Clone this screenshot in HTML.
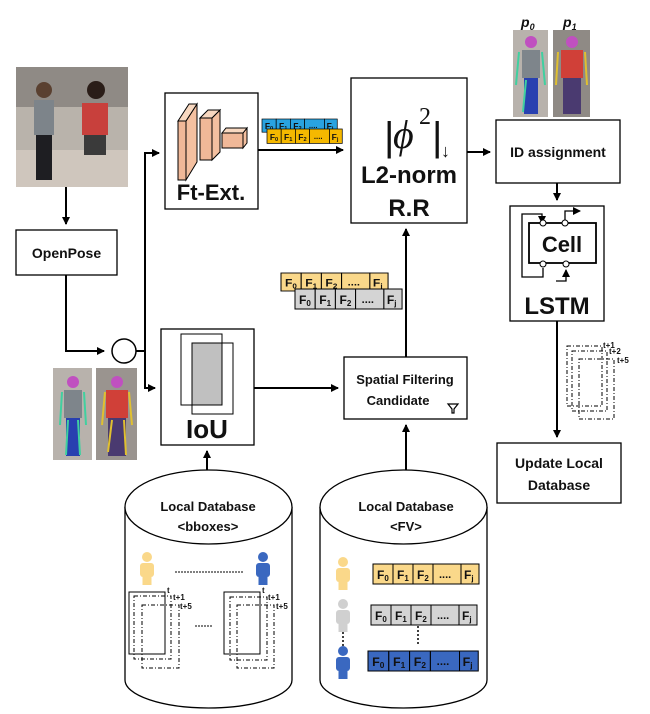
<!DOCTYPE html>
<html><head><meta charset="utf-8"><style>
html,body{margin:0;padding:0;background:#fff}
svg{display:block}
text{font-family:"Liberation Sans",sans-serif;font-weight:bold;fill:#111}
</style></head><body>
<svg width="650" height="714" viewBox="0 0 650 714" xmlns="http://www.w3.org/2000/svg">
<defs>
<marker id="a" markerWidth="8" markerHeight="8" refX="7" refY="4" orient="auto" markerUnits="userSpaceOnUse"><path d="M0,0 L8,4 L0,8 z" fill="#000"/></marker>
<g id="strip">
 <rect x="0" y="0" width="20" height="20" stroke="#000" stroke-width="1"/>
 <rect x="20" y="0" width="20" height="20" stroke="#000" stroke-width="1"/>
 <rect x="40" y="0" width="20" height="20" stroke="#000" stroke-width="1"/>
 <rect x="60" y="0" width="28" height="20" stroke="#000" stroke-width="1"/>
 <rect x="88" y="0" width="18" height="20" stroke="#000" stroke-width="1"/>
 <text x="4" y="15" font-size="12">F<tspan font-size="8" dy="2">0</tspan></text>
 <text x="24" y="15" font-size="12">F<tspan font-size="8" dy="2">1</tspan></text>
 <text x="44" y="15" font-size="12">F<tspan font-size="8" dy="2">2</tspan></text>
 <text x="66" y="14" font-size="11">....</text>
 <text x="91" y="15" font-size="12">F<tspan font-size="8" dy="2">j</tspan></text>
</g>
<g id="person"><circle cx="0" cy="0" r="5"/><rect x="-7" y="6" width="14" height="14" rx="3"/><rect x="-4.5" y="16" width="9" height="12"/></g>
</defs>

<!-- top-left photo -->
<rect x="16" y="67" width="112" height="120" fill="#b9b3ab"/>
<rect x="16" y="67" width="112" height="40" fill="#8f8a85"/>
<rect x="16" y="150" width="112" height="37" fill="#cfc6bd"/>
<rect x="34" y="100" width="20" height="35" fill="#7d848a"/><rect x="36" y="135" width="16" height="45" fill="#1e1e22"/>
<circle cx="44" cy="90" r="8" fill="#5a4030"/>
<rect x="82" y="103" width="26" height="32" fill="#c8403c"/><rect x="84" y="135" width="22" height="20" fill="#3a3a3a"/>
<circle cx="96" cy="90" r="9" fill="#2a1d18"/>

<path d="M66 187 V224" stroke="#000" stroke-width="2" fill="none" marker-end="url(#a)"/>
<rect x="16" y="230" width="101" height="45" fill="#fff" stroke="#000" stroke-width="1.3"/>
<text x="66.5" y="258" font-size="14" text-anchor="middle">OpenPose</text>

<path d="M66 275 V351 H104" stroke="#000" stroke-width="2" fill="none" marker-end="url(#a)"/>
<circle cx="124" cy="351" r="12" fill="#fff" stroke="#000" stroke-width="1.5"/>
<path d="M136 351 H145 V153 H159" stroke="#000" stroke-width="2" fill="none" marker-end="url(#a)"/>
<path d="M145 351 V388 H155" stroke="#000" stroke-width="2" fill="none" marker-end="url(#a)"/>

<!-- pose images -->
<rect x="53" y="368" width="39" height="92" fill="#b8b2ac"/>
<rect x="96" y="368" width="41" height="92" fill="#9a948f"/>
<rect x="64" y="390" width="18" height="28" fill="#7e858b"/><rect x="66" y="418" width="14" height="38" fill="#2840b0"/>
<rect x="106" y="390" width="22" height="28" fill="#d04038"/><rect x="108" y="418" width="18" height="38" fill="#4a3a70"/>
<circle cx="73" cy="382" r="6" fill="#c050c0"/><circle cx="117" cy="382" r="6" fill="#c050c0"/>
<path d="M62 392 L60 425 M84 392 L86 425 M68 420 L66 455 M78 420 L80 455" stroke="#40d0a0" stroke-width="2"/>
<path d="M105 392 L102 425 M129 392 L132 425 M112 420 L108 452 M124 420 L126 455" stroke="#e0c030" stroke-width="2"/>

<!-- Ft-Ext -->
<rect x="165" y="93" width="93" height="116" fill="#fff" stroke="#000" stroke-width="1.3"/>
<path d="M186 121 L197 104 L197 162 L186 180 z" fill="#f4c0a0" stroke="#000"/>
<path d="M178 121 L189 104 L197 104 L186 121 z" fill="#f8d8c0" stroke="#000"/>
<rect x="178" y="121" width="8" height="59" fill="#f0b898" stroke="#000"/>
<path d="M212 118 L220 110 L220 152 L212 160 z" fill="#f4c0a0" stroke="#000"/>
<path d="M200 118 L208 110 L220 110 L212 118 z" fill="#f8d8c0" stroke="#000"/>
<rect x="200" y="118" width="12" height="42" fill="#f0b898" stroke="#000"/>
<path d="M243 133 L247 128 L247 143 L243 148 z" fill="#f4c0a0" stroke="#000"/>
<path d="M222 133 L226 128 L247 128 L243 133 z" fill="#f8d8c0" stroke="#000"/>
<rect x="222" y="133" width="21" height="15" fill="#f0b898" stroke="#000"/>
<text x="211" y="200" font-size="22" text-anchor="middle">Ft-Ext.</text>

<!-- top feature strips -->
<use href="#strip" fill="#29a3e0" transform="translate(262 119) scale(0.71 0.66)"/>
<use href="#strip" fill="#f5b800" transform="translate(267 129) scale(0.71 0.72)"/>
<path d="M258 150 H343" stroke="#000" stroke-width="2" fill="none" marker-end="url(#a)"/>

<!-- L2 norm -->
<rect x="351" y="78" width="116" height="145" fill="#fff" stroke="#000" stroke-width="1.3"/>
<text x="384" y="150" font-size="40" style="font-weight:normal">|</text>
<text x="393" y="148" font-size="40" font-style="italic" style="font-weight:normal;font-family:'Liberation Serif',serif">ϕ</text>
<text x="419" y="124" font-size="24" style="font-weight:normal;font-family:'Liberation Serif',serif">2</text>
<text x="432" y="150" font-size="40" style="font-weight:normal">|</text>
<text x="441" y="157" font-size="18" style="font-weight:normal">↓</text>
<text x="409" y="183" font-size="24" text-anchor="middle">L2-norm</text>
<text x="409" y="216" font-size="24" text-anchor="middle">R.R</text>
<path d="M467 152 H490" stroke="#000" stroke-width="2" fill="none" marker-end="url(#a)"/>

<!-- p0 p1 -->
<text x="521" y="27" font-size="14" font-style="italic">p<tspan font-size="9" dy="3">0</tspan></text>
<text x="563" y="27" font-size="14" font-style="italic">p<tspan font-size="9" dy="3">1</tspan></text>
<rect x="513" y="30" width="35" height="87" fill="#b8b2ac"/>
<rect x="553" y="30" width="37" height="87" fill="#8f8a85"/>
<rect x="522" y="50" width="18" height="28" fill="#7e858b"/><rect x="524" y="78" width="14" height="36" fill="#2840b0"/>
<rect x="561" y="50" width="22" height="28" fill="#d04038"/><rect x="563" y="78" width="18" height="36" fill="#4a3a70"/>
<circle cx="531" cy="42" r="6" fill="#c050c0"/><circle cx="572" cy="42" r="6" fill="#c050c0"/>
<path d="M519 52 L516 85 M542 52 L545 85 M526 80 L523 112" stroke="#40d0a0" stroke-width="2"/>
<path d="M558 52 L556 85 M585 52 L587 85" stroke="#e0c030" stroke-width="2"/>

<rect x="496" y="120" width="124" height="63" fill="#fff" stroke="#000" stroke-width="1.3"/>
<text x="558" y="157" font-size="14" text-anchor="middle">ID assignment</text>
<path d="M557 183 V200" stroke="#000" stroke-width="2" fill="none" marker-end="url(#a)"/>

<!-- LSTM -->
<rect x="510" y="206" width="94" height="115" fill="#fff" stroke="#000" stroke-width="1.3"/>
<rect x="529" y="223" width="67" height="40" fill="#fff" stroke="#000" stroke-width="1.8"/>
<path d="M543 268 V277 H522 V214 H542 V223" stroke="#000" stroke-width="1.3" fill="none" marker-end="url(#a)"/>
<path d="M565 223 V211 H580" stroke="#000" stroke-width="1.3" fill="none" marker-end="url(#a)"/>
<path d="M556 281 H566 V270" stroke="#000" stroke-width="1.3" fill="none" marker-end="url(#a)"/>
<circle cx="543" cy="223" r="3" fill="#fff" stroke="#000"/><circle cx="565" cy="223" r="3" fill="#fff" stroke="#000"/>
<circle cx="543" cy="264" r="3" fill="#fff" stroke="#000"/><circle cx="566" cy="264" r="3" fill="#fff" stroke="#000"/>
<text x="562" y="252" font-size="22" text-anchor="middle">Cell</text>
<text x="557" y="314" font-size="24" text-anchor="middle">LSTM</text>
<path d="M557 321 V437" stroke="#000" stroke-width="2" fill="none" marker-end="url(#a)"/>
<g stroke="#000" stroke-width="1" stroke-dasharray="4,2,1,2" fill="none">
<rect x="567" y="346" width="35" height="60"/><rect x="572" y="351" width="35" height="60"/><rect x="579" y="359" width="35" height="60"/>
</g>
<text x="603" y="348" font-size="8">t+1</text><text x="609" y="354" font-size="8">t+2</text><text x="617" y="363" font-size="8">t+5</text>

<rect x="497" y="443" width="124" height="60" fill="#fff" stroke="#000" stroke-width="1.3"/>
<text x="559" y="468" font-size="14" text-anchor="middle">Update Local</text>
<text x="559" y="490" font-size="14" text-anchor="middle">Database</text>

<!-- IoU -->
<rect x="161" y="329" width="93" height="116" fill="#fff" stroke="#000" stroke-width="1.3"/>
<rect x="181" y="334" width="41" height="71" fill="#fff" stroke="#000"/>
<rect x="192" y="343" width="41" height="71" fill="none" stroke="#000"/>
<rect x="192" y="343" width="30" height="62" fill="#c0c0c0" stroke="#000"/>
<text x="207" y="438" font-size="26" text-anchor="middle">IoU</text>
<path d="M254 388 H338" stroke="#000" stroke-width="2" fill="none" marker-end="url(#a)"/>
<path d="M207 470 V451" stroke="#000" stroke-width="2" fill="none" marker-end="url(#a)"/>

<!-- middle strips -->
<use href="#strip" fill="#fad88a" transform="translate(281 273) scale(1.01 0.9)"/>
<use href="#strip" fill="#d4d4d4" transform="translate(295 289) scale(1.01 1.0)"/>

<!-- Spatial filtering -->
<rect x="344" y="357" width="123" height="62" fill="#fff" stroke="#000" stroke-width="1.3"/>
<text x="405" y="384" font-size="13" text-anchor="middle">Spatial Filtering</text>
<text x="398" y="405" font-size="13" text-anchor="middle">Candidate</text>
<path d="M448 404 H458 L454 409 V413 L452 413 V409 z" fill="#fff" stroke="#000" stroke-width="1.2"/>
<path d="M406 357 V229" stroke="#000" stroke-width="2" fill="none" marker-end="url(#a)"/>
<path d="M406 470 V425" stroke="#000" stroke-width="2" fill="none" marker-end="url(#a)"/>

<!-- left cylinder -->
<path d="M125 507 V680 A83.5 28 0 0 0 292 680 V507" fill="#fff" stroke="#000" stroke-width="1.3"/>
<ellipse cx="208.5" cy="507" rx="83.5" ry="37" fill="#fff" stroke="#000" stroke-width="1.3"/>
<text x="208" y="511" font-size="13" text-anchor="middle">Local Database</text>
<text x="208" y="531" font-size="13" text-anchor="middle">&lt;bboxes&gt;</text>
<use href="#person" fill="#fad88a" transform="translate(147 557)"/>
<use href="#person" fill="#3a68c0" transform="translate(263 557)"/>
<path d="M175 572 H243" stroke="#000" stroke-dasharray="2,1"/>
<path d="M195 626 H212" stroke="#000" stroke-dasharray="2,1"/>
<g stroke="#000" stroke-width="1" fill="none">
<rect x="129" y="592" width="36" height="62"/><rect x="224" y="592" width="36" height="62"/>
<g stroke-dasharray="4,2,1,2"><rect x="134" y="596" width="37" height="63"/><rect x="142" y="605" width="37" height="63"/>
<rect x="230" y="597" width="37" height="63"/><rect x="237" y="605" width="37" height="63"/></g>
</g>
<text x="167" y="593" font-size="8">t</text><text x="173" y="600" font-size="8">t+1</text><text x="180" y="609" font-size="8">t+5</text>
<text x="262" y="593" font-size="8">t</text><text x="268" y="600" font-size="8">t+1</text><text x="276" y="609" font-size="8">t+5</text>

<!-- right cylinder -->
<path d="M320 507 V680 A83.5 28 0 0 0 487 680 V507" fill="#fff" stroke="#000" stroke-width="1.3"/>
<ellipse cx="403.5" cy="507" rx="83.5" ry="37" fill="#fff" stroke="#000" stroke-width="1.3"/>
<text x="406" y="511" font-size="13" text-anchor="middle">Local Database</text>
<text x="406" y="531" font-size="13" text-anchor="middle">&lt;FV&gt;</text>
<use href="#person" fill="#fad88a" transform="translate(343 562)"/>
<use href="#person" fill="#d0d0d0" transform="translate(343 604)"/>
<use href="#person" fill="#3a68c0" transform="translate(343 651)"/>
<path d="M343 632 V648 M418 626 V644" stroke="#000" stroke-width="1.5" stroke-dasharray="2,2"/>
<use href="#strip" fill="#fad88a" transform="translate(373 564)"/>
<use href="#strip" fill="#d4d4d4" transform="translate(371 605)"/>
<use href="#strip" fill="#3a68c0" transform="translate(368 651) scale(1.04 1)"/>
</svg>
</body></html>
